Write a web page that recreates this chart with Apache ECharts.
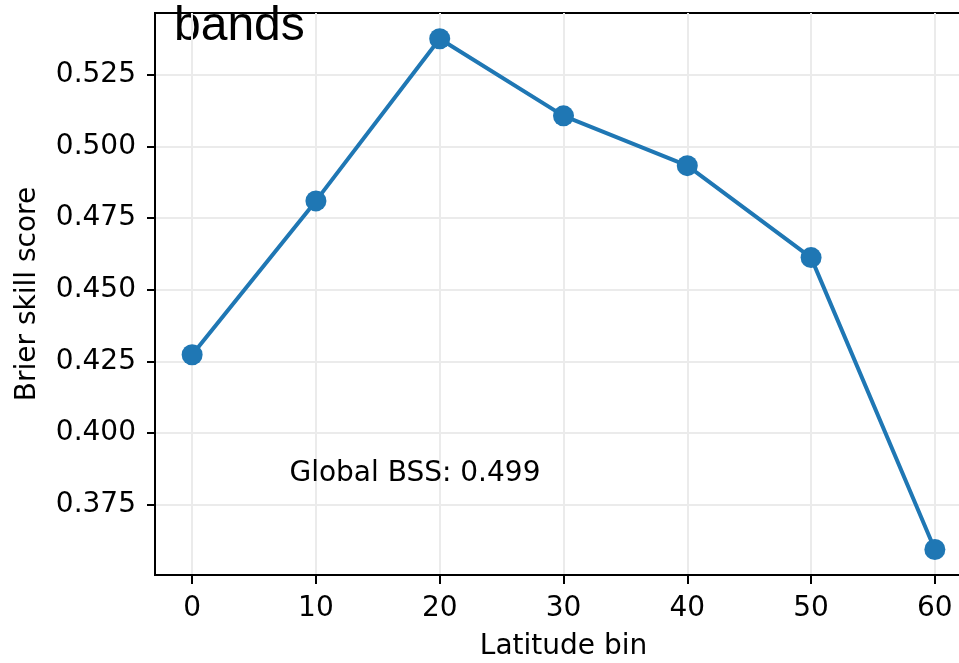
<!DOCTYPE html>
<html>
<head>
<meta charset="utf-8">
<script src="https://cdn.jsdelivr.net/npm/echarts@6/dist/echarts.min.js"></script>
<style>
  html, body { margin: 0; padding: 0; background: #fff; }
  #chart { width: 959px; height: 663px; }
</style>
</head>
<body>
<div id="chart"></div>
<script>
// data
const latBins = [0, 10, 20, 30, 40, 50, 60];
const bssValues = [0.4273, 0.4810, 0.5376, 0.5107, 0.4933, 0.4612, 0.3593];
const xTicks = [0, 10, 20, 30, 40, 50, 60];
const yTicks = [0.375, 0.400, 0.425, 0.450, 0.475, 0.500, 0.525];
const globalBss = 0.499;

const chart = echarts.init(document.getElementById('chart'));
const tickFont = 'DejaVu Sans';

const option = {
  animation: false,
  grid: {
    left: 155,
    top: 13,
    width: 817, // right spine falls outside the picture
    height: 562,
    outerBoundsMode: 'none',
    show: true,
    borderColor: '#000',
    borderWidth: 2
  },
  graphic: [
    {
      type: 'text',
      left: 174,
      top: 3,
      style: {
        text: 'bands',
        font: '48px "Liberation Sans", Arial, sans-serif',
        fill: '#000'
      }
    }
  ],
  xAxis: {
    type: 'value',
    min: -3,
    max: 63,
    name: 'Latitude bin',
    nameLocation: 'middle',
    nameGap: 58,
    nameTextStyle: { fontFamily: tickFont, fontSize: 28, color: '#000' },
    axisLine: { show: true, onZero: false, lineStyle: { color: '#000', width: 2 } },
    axisTick: { show: true, length: 9, lineStyle: { color: '#000', width: 2 }, customValues: xTicks },
    axisLabel: { customValues: xTicks, fontFamily: tickFont, fontSize: 28, color: '#000', margin: 20 },
    splitLine: { show: true, lineStyle: { color: '#ebebeb', width: 2 } }
  },
  yAxis: {
    type: 'value',
    min: 0.3504,
    max: 0.5466,
    name: 'Brier skill score',
    nameLocation: 'middle',
    nameGap: 113,
    nameTextStyle: { fontFamily: tickFont, fontSize: 28, color: '#000' },
    axisLine: { show: true, onZero: false, lineStyle: { color: '#000', width: 2 } },
    axisTick: { show: true, length: 8, lineStyle: { color: '#000', width: 2 }, customValues: yTicks },
    axisLabel: {
      customValues: yTicks,
      fontFamily: tickFont, fontSize: 28, color: '#000', margin: 19,
      formatter: v => v.toFixed(3)
    },
    splitLine: { show: true, lineStyle: { color: '#ebebeb', width: 2 } }
  },
  series: [
    {
      type: 'line',
      data: latBins.map((x, i) => [x, bssValues[i]]),
      symbol: 'circle',
      symbolSize: 21,
      lineStyle: { color: '#1f77b4', width: 4 },
      itemStyle: { color: '#1f77b4' },
      markPoint: {
        symbol: 'circle',
        symbolSize: 0,
        label: {
          show: true,
          formatter: 'Global BSS: ' + globalBss.toFixed(3),
          fontFamily: tickFont,
          fontSize: 28,
          color: '#000'
        },
        data: [{ coord: [18, 0.3859] }]
      }
    }
  ]
};

chart.setOption(option);
</script>
</body>
</html>
